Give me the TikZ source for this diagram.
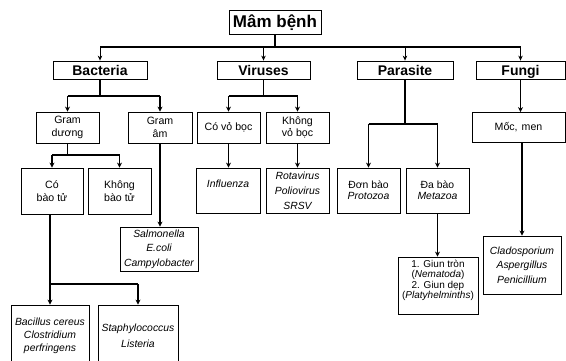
\documentclass[tikz,border=0pt]{standalone}
\usepackage{fontspec}
\setmainfont{Liberation Sans}
\usetikzlibrary{arrows.meta}
\begin{document}
\begin{tikzpicture}[x=1pt,y=-1pt,
  hdr/.style={draw,line width=0.8pt,inner sep=0pt,text height=12pt,text depth=1pt,font=\fontsize{14}{16}\selectfont\bfseries},
  sb/.style={draw,line width=0.8pt,inner sep=0pt,align=center,font=\fontsize{10.6}{12.5}\selectfont},
  it/.style={font=\fontsize{10.4}{14}\selectfont\itshape},
  thk/.style={line width=1.8pt},
  arr/.style={line width=1.6pt,-{Stealth[length=5pt,width=5pt]}},
  tarr/.style={line width=1pt,-{Stealth[length=5pt,width=4.5pt]}}]
\useasboundingbox (0,0) rectangle (566,360);
% level 0
\node[hdr,minimum width=92pt,minimum height=24pt,text height=14pt,text depth=4pt,font=\fontsize{17}{19}\selectfont\bfseries] (mam) at (275,22) {Mâm bệnh};
% level 1
\node[hdr,minimum width=94pt,minimum height=18pt] (bac) at (100,70) {Bacteria};
\node[hdr,minimum width=93pt,minimum height=18pt] (vir) at (263.5,70) {Viruses};
\node[hdr,minimum width=96pt,minimum height=18pt] (par) at (405,70) {Parasite};
\node[hdr,minimum width=89pt,minimum height=18pt] (fun) at (520.5,70) {Fungi};
% level 2
\node[sb,minimum width=63pt,minimum height=31pt] (gd) at (67.5,127.5) {Gram\\dương};
\node[sb,minimum width=64pt,minimum height=31pt] (ga) at (160,127.5) {Gram\\âm};
\node[sb,minimum width=63pt,minimum height=31pt] (cvb) at (228.5,127.5) {Có vỏ bọc};
\node[sb,minimum width=63pt,minimum height=31pt] (kvb) at (297.5,127.5) {Không\\vỏ bọc};
\node[sb,minimum width=93pt,minimum height=30pt] (moc) at (518.5,127.5) {Mốc,\hspace{4pt}men};
% level 3
\node[sb,minimum width=62pt,minimum height=46pt] (cbt) at (52,191) {Có\\bào tử};
\node[sb,minimum width=63pt,minimum height=46pt] (kbt) at (119.5,191) {Không\\bào tử};
\node[sb,it,minimum width=64pt,minimum height=45pt] (inf) at (228,190.5) {Influenza\\~};
\node[sb,it,font=\fontsize{10.4}{15}\selectfont\itshape,minimum width=63pt,minimum height=45pt] (rot) at (297.5,190.5) {Rotavirus\\Poliovirus\\SRSV};
\node[sb,font=\fontsize{10.4}{11}\selectfont,minimum width=63pt,minimum height=45pt] (don) at (368.5,190.5) {Đơn bào\\\textit{Protozoa}};
\node[sb,font=\fontsize{10.4}{11}\selectfont,minimum width=63pt,minimum height=45pt] (dab) at (437.5,190.5) {Đa bào\\\textit{Metazoa}};
% level 4
\node[sb,font=\fontsize{10.4}{14.5}\selectfont\itshape,minimum width=78pt,minimum height=44pt] (sal) at (159,249) {Salmonella\\E.coli\\Campylobacter};
\node[sb,font=\fontsize{10}{10.5}\selectfont,minimum width=80pt,minimum height=57pt] (giun) at (438,285.5) {1. Giun tròn\\(\textit{Nematoda})\\2. Giun dẹp\\(\textit{Platyhelminths})\\[2pt]};
\node[sb,font=\fontsize{10.4}{14.5}\selectfont\itshape,minimum width=78pt,minimum height=58pt] (cla) at (522,265) {Cladosporium\\Aspergillus\\Penicillium};
\node[sb,font=\fontsize{10.4}{13}\selectfont\itshape,minimum width=78pt,minimum height=62pt] (bacil) at (50,336) {Bacillus cereus\\Clostridium\\perfringens};
\node[sb,font=\fontsize{10.4}{16}\selectfont\itshape,minimum width=80pt,minimum height=62pt] (staph) at (138,336) {Staphylococcus\\Listeria};
% top bus
\coordinate (b0) at (275,47);
\draw[thk] (mam.south) -- (b0);
\draw[thk] (bac.north |- b0) -- (fun.north |- b0);
\foreach \n in {bac,vir,par,fun} \draw[tarr] (\n.north |- b0) -- (\n.north);
% Bacteria
\coordinate (jb) at (100,96);
\draw[thk] (bac.south) -- (jb);
\draw[thk] (gd.north |- jb) -- (ga.north |- jb);
\draw[arr] (gd.north |- jb) -- (gd.north);
\draw[arr] (ga.north |- jb) -- (ga.north);
% Gram duong
\coordinate (jg) at (67.5,155);
\draw[thk] (gd.south) -- (jg);
\draw[thk] (cbt.north |- jg) -- (kbt.north |- jg);
\draw[arr] (cbt.north |- jg) -- (cbt.north);
\draw[arr] (kbt.north |- jg) -- (kbt.north);
% Gram am
\draw[arr] (ga.south) -- (ga.south |- sal.north);
% Co bao tu
\coordinate (jc) at (50,284);
\draw[thk] (bacil.north |- cbt.south) -- (jc);
\draw[thk] (jc) -- (staph.north |- jc);
\draw[arr] (jc) -- (bacil.north);
\draw[arr] (staph.north |- jc) -- (staph.north);
% Viruses
\coordinate (jv) at (263.5,96);
\draw[thk] (vir.south) -- (jv);
\draw[thk] (cvb.north |- jv) -- (kvb.north |- jv);
\draw[arr] (cvb.north |- jv) -- (cvb.north);
\draw[arr] (kvb.north |- jv) -- (kvb.north);
\draw[arr] (cvb.south) -- (cvb.south |- inf.north);
\draw[arr] (kvb.south) -- (kvb.south |- rot.north);
% Parasite
\coordinate (jp) at (405,124);
\draw[thk] (par.south) -- (jp);
\draw[thk] (don.north |- jp) -- (dab.north |- jp);
\draw[arr] (don.north |- jp) -- (don.north);
\draw[arr] (dab.north |- jp) -- (dab.north);
\draw[arr] (dab.south) -- (dab.south |- giun.north);
% Fungi
\draw[arr] (fun.south) -- (fun.south |- moc.north);
\draw[arr] (cla.north |- moc.south) -- (cla.north);
\end{tikzpicture}
\end{document}
